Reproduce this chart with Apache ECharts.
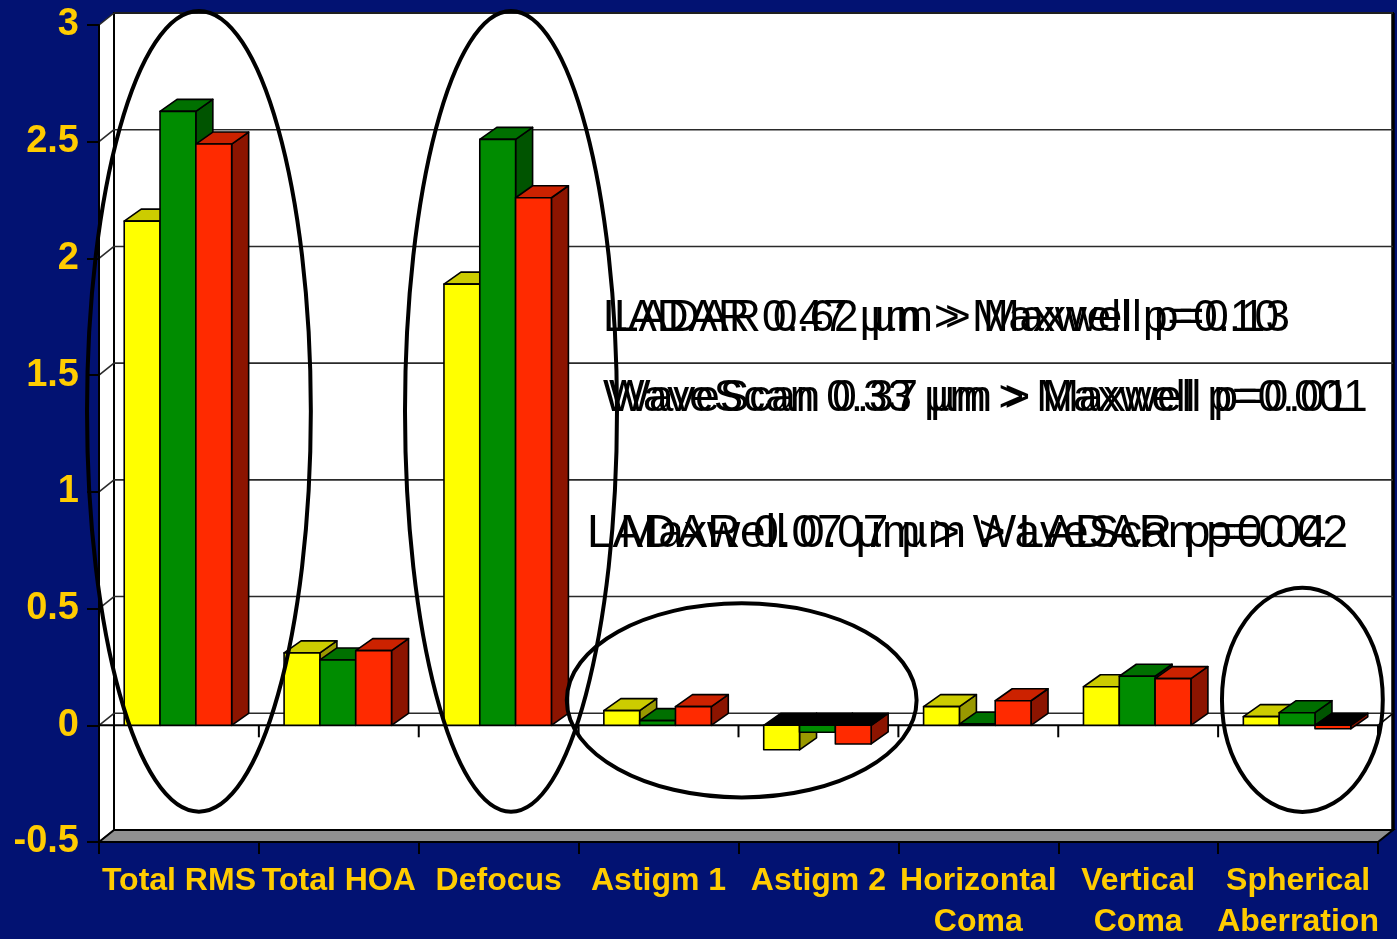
<!DOCTYPE html>
<html>
<head>
<meta charset="utf-8">
<title>Wavefront aberrations by aberrometer</title>
<script src="https://cdn.jsdelivr.net/npm/echarts@6/dist/echarts.min.js"></script>
<style>
  html, body { margin: 0; padding: 0; background: #021272; }
  #chart { width: 1397px; height: 939px; }
</style>
</head>
<body>
<div id="chart"></div>
<script>
// ---- data ----
const categories = ['Total RMS', 'Total HOA', 'Defocus', 'Astigm 1', 'Astigm 2',
                    'Horizontal\nComa', 'Vertical\nComa', 'Spherical\nAberration'];
const maxwell  = [2.16, 0.31, 1.89, 0.063, -0.105, 0.08, 0.165, 0.037];   // yellow
const ladar    = [2.63, 0.28, 2.51, 0.02,  -0.03,  0.005, 0.21, 0.054];   // green
const wavescan = [2.49, 0.32, 2.26, 0.08,  -0.08,  0.105, 0.20, -0.015];  // red
const yTicks = [-0.5, 0, 0.5, 1, 1.5, 2, 2.5, 3];

const annotations = [
  'LADAR 0.47 µm > Maxwell p=0.10',
  'LADAR 0.62 µm > Maxwell p=0.13',
  'WaveScan 0.33 µm > Maxwell p=0.001',
  'WaveScan 0.37 µm > Maxwell p=0.01',
  'LADAR 0.07 µm > WaveScan p=0.02',
  'Maxwell 0.07 µm > LADAR p=0.04'
];

// ---- styling ----
const faces = [
  { front: '#FFFF00', top: '#CCCC00', side: '#999900' },
  { front: '#008C00', top: '#007000', side: '#005400' },
  { front: '#FF2A00', top: '#CC2200', side: '#8C1400' }
];
const DX = 15, DY = -12;        // wall depth
const BDX = 17, BDY = -12;      // bar depth
const LABEL = '#FFCC00';
const FONT = '"Liberation Sans", Arial, sans-serif';

const chart = echarts.init(document.getElementById('chart'));

function wallsItem(params, api) {
  const cs = params.coordSys;
  const x0 = cs.x, x1 = cs.x + cs.width;
  const yTop = cs.y, yBot = cs.y + cs.height;
  const kids = [];
  // left side wall
  kids.push({ type: 'polygon', shape: { points: [[x0, yTop], [x0 + DX, yTop + DY], [x0 + DX, yBot + DY], [x0, yBot]] },
              style: { fill: '#fff', stroke: null } });
  // back wall
  kids.push({ type: 'rect', shape: { x: x0 + DX, y: yTop + DY, width: cs.width, height: cs.height },
              style: { fill: '#fff', stroke: '#000', lineWidth: 2 } });
  kids.push({ type: 'line', shape: { x1: x1 + DX, y1: yTop + DY, x2: x1 + DX, y2: yBot + DY },
              style: { stroke: '#000', lineWidth: 3.5 } });
  // grid lines on back and side walls
  yTicks.forEach(v => {
    const y = api.coord([0, v])[1];
    kids.push({ type: 'line', shape: { x1: x0 + DX, y1: y + DY, x2: x1 + DX, y2: y + DY },
                style: { stroke: '#2a2a2a', lineWidth: 1.6 } });
    kids.push({ type: 'line', shape: { x1: x0, y1: y, x2: x0 + DX, y2: y + DY },
                style: { stroke: '#2a2a2a', lineWidth: 1.6 } });
  });
  // floor
  kids.push({ type: 'polygon', shape: { points: [[x0, yBot], [x0 + DX, yBot + DY], [x1 + DX, yBot + DY], [x1, yBot]] },
              style: { fill: '#909090', stroke: '#000', lineWidth: 2 } });
  // zero plane front edge with category ticks
  const y0 = api.coord([0, 0])[1];
  kids.push({ type: 'line', shape: { x1: x0, y1: y0, x2: x1, y2: y0 }, style: { stroke: '#000', lineWidth: 2 } });
  kids.push({ type: 'line', shape: { x1: x1, y1: y0, x2: x1 + DX, y2: y0 + DY }, style: { stroke: '#000', lineWidth: 1.6 } });
  const band = cs.width / categories.length;
  for (let i = 1; i <= categories.length; i++) {
    const x = x0 + i * band;
    kids.push({ type: 'line', shape: { x1: x, y1: y0, x2: x, y2: y0 + 12 }, style: { stroke: '#000', lineWidth: 2 } });
  }
  return { type: 'group', children: kids };
}

function barItem(params, api) {
  const cat = api.value(0), val = api.value(1), s = api.value(2);
  const band = api.size([1, 0])[0];
  const base = api.coord([cat, 0]);
  const tip = api.coord([cat, val]);
  const w = band * 0.224;
  const x = base[0] - 1.5 * w - 1 + s * w;
  const yT = Math.min(base[1], tip[1]);
  const yB = Math.max(base[1], tip[1]);
  const f = faces[s];
  const topFill = val < 0 ? '#000' : f.top;
  const line = { stroke: '#000', lineWidth: 1.6, lineJoin: 'round' };
  return {
    type: 'group',
    children: [
      { type: 'polygon', shape: { points: [[x + w, yT], [x + w + BDX, yT + BDY], [x + w + BDX, yB + BDY], [x + w, yB]] },
        style: Object.assign({ fill: f.side }, line) },
      { type: 'polygon', shape: { points: [[x, yT], [x + BDX, yT + BDY], [x + w + BDX, yT + BDY], [x + w, yT]] },
        style: Object.assign({ fill: topFill }, line) },
      { type: 'rect', shape: { x: x, y: yT, width: w, height: yB - yT },
        style: Object.assign({ fill: f.front }, line) }
    ]
  };
}

const seriesData = [maxwell, ladar, wavescan].map((arr, s) => arr.map((v, i) => [i, v, s]));

chart.setOption({
  backgroundColor: '#021272',
  animation: false,
  grid: { left: 99, top: 25, width: 1279, height: 817, containLabel: false, outerBoundsMode: 'none' },
  xAxis: {
    type: 'category', data: categories, z: 5,
    axisLine: { onZero: false, lineStyle: { color: '#000', width: 2 } },
    axisTick: { show: true, length: 12, interval: 0, lineStyle: { color: '#000', width: 2 } },
    axisLabel: { interval: 0, margin: 19, color: LABEL, fontWeight: 'bold', fontSize: 32,
                 lineHeight: 41, fontFamily: FONT },
    splitLine: { show: false }
  },
  yAxis: {
    type: 'value', min: -0.5, max: 3, interval: 0.5, z: 5,
    axisLine: { show: true, lineStyle: { color: '#000', width: 2 } },
    axisTick: { show: true, length: 12, lineStyle: { color: '#000', width: 2 } },
    axisLabel: { margin: 20, color: LABEL, fontWeight: 'bold', fontSize: 38, fontFamily: FONT },
    splitLine: { show: false }
  },
  series: [
    { type: 'custom', name: 'walls', z: 1, silent: true, renderItem: wallsItem, data: [[0, 0]] },
    { type: 'custom', name: 'Maxwell', z: 2, renderItem: barItem, data: seriesData[0] },
    { type: 'custom', name: 'LADAR', z: 2, renderItem: barItem, data: seriesData[1] },
    { type: 'custom', name: 'WaveScan', z: 2, renderItem: barItem, data: seriesData[2] }
  ]
});

// ---- hand-drawn ellipses and overlaid comparison notes ----
const p0 = chart.convertToPixel({ xAxisIndex: 0 }, 0);
const p1 = chart.convertToPixel({ xAxisIndex: 0 }, 1);
const bandPx = p1 - p0;
const unitPx = chart.convertToPixel({ yAxisIndex: 0 }, 0) - chart.convertToPixel({ yAxisIndex: 0 }, 1);
// center given as (category index, value); radii in bands and value units
const rings = [
  { c: 0.125, v: 1.345, rx: 0.70,  ry: 1.715 },
  { c: 2.077, v: 1.345, rx: 0.663, ry: 1.715 },
  { c: 3.52,  v: 0.107, rx: 1.094, ry: 0.416 },
  { c: 7.027, v: 0.109, rx: 0.503, ry: 0.48 }
];
const notePos = [[603, 319, 44], [614, 319, 44], [603, 399, 44], [609, 399, 44], [587, 534, 46], [620, 534, 46]];

const graphics = rings.map(r => ({
  type: 'ellipse', z: 20, silent: true,
  shape: { cx: p0 + r.c * bandPx, cy: chart.convertToPixel({ yAxisIndex: 0 }, r.v), rx: r.rx * bandPx, ry: r.ry * unitPx },
  style: { fill: null, stroke: '#000', lineWidth: 4 }
}));
annotations.forEach((t, i) => {
  graphics.push({
    type: 'text', z: 21, silent: true, x: notePos[i][0], y: notePos[i][1],
    style: { text: t, fill: '#000', font: notePos[i][2] + 'px ' + FONT,
             textVerticalAlign: 'middle', verticalAlign: 'middle' }
  });
});
chart.setOption({ graphic: graphics });
</script>
</body>
</html>
